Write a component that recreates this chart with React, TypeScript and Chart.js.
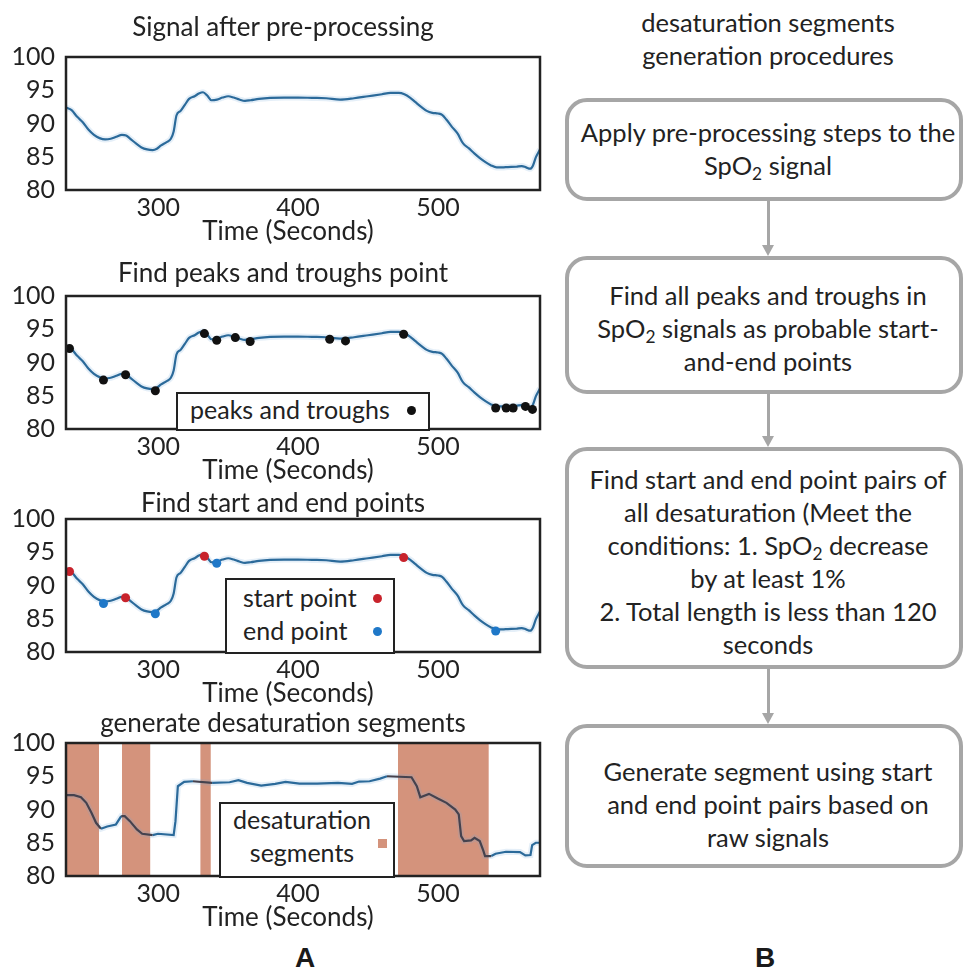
import React, { useEffect, useRef } from "react";
import { Chart, registerables } from "chart.js";

Chart.register(...registerables);

// ---------------- data ----------------
const xTicks = [300, 400, 500];
const yTicks = [80, 85, 90, 95, 100];

const smoothTime = [234,238,242,246,250,254,258,262,266,270,274,277,280,284,288,292,296,299,302,306,309,311,313,316,319,322,326,329,332,335,338,342,346,350,354,358,362,366,372,380,390,400,410,420,430,440,450,460,466,472,476,480,484,488,492,496,500,503,506,510,514,518,522,526,530,534,538,542,546,550,556,560,563,566,568,570,573];
const smoothSpO2 = [92.4,92.0,91.0,90.2,89.1,88.3,87.8,87.6,87.7,88.0,88.3,88.2,87.7,87.0,86.4,86.1,86.0,86.2,86.7,87.2,87.7,88.8,91.2,91.9,92.8,93.7,94.1,94.5,94.7,94.2,93.5,93.6,93.9,94.1,93.9,93.6,93.4,93.5,93.7,93.85,93.9,93.9,93.85,93.8,93.6,93.8,94.1,94.4,94.6,94.6,94.4,93.9,93.2,92.5,91.9,91.6,91.5,91.3,90.6,89.5,88.5,87.0,86.3,85.5,84.8,84.2,83.7,83.4,83.4,83.45,83.5,83.6,83.4,83.2,83.7,84.9,86.1];

const peakTime = [236.5,260.8,276.6,297.9,333,341.8,355.1,365.7,422.6,433.9,475.5,541.3,548.8,553.8,562.6,567.6];
const peakSpO2 = [92.1,87.35,88.15,85.75,94.35,93.35,93.75,93.15,93.5,93.25,94.25,83.15,83.15,83.15,83.4,82.95];

const startTime = [236.5,276.6,333,475.5];
const startSpO2 = [92.1,88.15,94.4,94.2];
const endTime = [260.8,297.9,341.8,541.3];
const endSpO2 = [87.3,85.75,93.35,83.15];

const rawTime = [234,239.7,244.7,248.5,252.2,255.5,259,263.5,269.7,273.5,276,279.7,284.7,288.5,296,299.8,311,312.3,314,318.5,324.8,338.5,351,357.3,363.5,373.6,383.6,391,401,413.6,428.6,438.6,443.6,451.1,458.6,463.6,481.1,484.9,487.4,493.6,499.9,506.1,512.4,514.9,516.6,518.7,523.7,526.2,529.9,532.4,533.7,538.2,541.2,548.7,558.7,562.5,566.2,567.4,570,573.2];
const rawSpO2 = [92.15,92.15,91.85,91.0,89.5,88.0,87.1,87.45,87.75,89.0,89.0,88.25,87.0,86.35,86.15,86.35,86.15,88.25,93.5,94.15,94.25,94.0,94.1,94.4,94.0,93.6,93.85,94.15,93.9,93.9,94.0,93.85,94.2,94.25,94.65,95.0,94.85,93.5,91.85,92.35,91.65,91.0,90.0,89.25,86.0,85.25,85.35,85.75,85.25,83.85,83.0,83.0,83.35,83.65,83.6,83.1,83.15,84.65,85.0,85.0];

const segStart = [234, 274, 330, 471.4];
const segEnd = [257.6, 294.4, 337.6, 536.4];

const panelTitles = ["Signal after pre-processing", "Find peaks and troughs point", "Find start and end points", "generate desaturation segments"];
const xAxisTitle = "Time (Seconds)";

// ---------------- styles ----------------
const FONT = "Lato, 'DejaVu Sans', sans-serif";
const TEXT = "#222222";
const LINE = "#2b6a9a";
const HALO = "rgba(110,165,215,0.18)";
const SEG = "#d4937c";
const BOXC = "#a6a6a6";

const pts = (xs: number[], ys: number[]) => xs.map((x, i) => ({ x, y: ys[i] }));
const inSeg = (x: number) => segStart.some((s, i) => x >= s && x <= segEnd[i]);

const framePlugin = {
  id: "frame",
  afterDraw(chart: any) {
    const { ctx, chartArea } = chart;
    const { left, top, right, bottom } = chartArea;
    ctx.save();
    ctx.strokeStyle = "#222";
    ctx.lineWidth = 2.5;
    ctx.strokeRect(left, top, right - left, bottom - top);
    ctx.restore();
  },
};

const smoothLines = () => [
  {
    data: pts(smoothTime, smoothSpO2),
    borderColor: LINE,
    borderWidth: 2.2,
    pointRadius: 0,
    tension: 0.4,
    cubicInterpolationMode: "monotone",
  },
  {
    data: pts(smoothTime, smoothSpO2),
    borderColor: HALO,
    borderWidth: 6,
    pointRadius: 0,
    tension: 0.4,
    cubicInterpolationMode: "monotone",
  },
];

const dot = (xs: number[], ys: number[], color: string) => ({
  data: pts(xs, ys),
  showLine: false,
  pointRadius: 4.5,
  pointBackgroundColor: color,
  pointBorderWidth: 0,
  borderColor: color,
});

// layout of each panel: canvas top (= plot top - 57) and title centre y
const panels: any[] = [
  { top: 0, titleY: 26, datasets: () => smoothLines() },
  { top: 239, titleY: 272, datasets: () => [dot(peakTime, peakSpO2, "#111111"), ...smoothLines()] },
  { top: 462, titleY: 502, datasets: () => [dot(startTime, startSpO2, "#c8232c"), dot(endTime, endSpO2, "#1f78c8"), ...smoothLines()] },
  {
    top: 686, titleY: 722,
    datasets: () => [
      {
        data: pts(rawTime, rawSpO2),
        borderColor: LINE,
        borderWidth: 2.2,
        pointRadius: 0,
        tension: 0,
        segment: {
          borderColor: (c: any) => (inSeg((c.p0.parsed.x + c.p1.parsed.x) / 2) ? "#45424e" : LINE),
        },
      },
      { data: pts(rawTime, rawSpO2), borderColor: HALO, borderWidth: 6, pointRadius: 0, tension: 0 },
      ...segStart.map((s, i) => ({
        data: [{ x: s, y: 100 }, { x: segEnd[i], y: 100 }],
        borderWidth: 0,
        borderColor: SEG,
        backgroundColor: SEG,
        pointRadius: 0,
        fill: "start",
      })),
    ],
  },
];

function Panel({ cfg }: { cfg: any }) {
  const ref = useRef<HTMLCanvasElement>(null);
  useEffect(() => {
    const font = { family: FONT, size: 25 };
    const chart = new Chart(ref.current as HTMLCanvasElement, {
      type: "line",
      data: { datasets: cfg.datasets() },
      plugins: [framePlugin],
      options: {
        animation: false,
        responsive: false,
        maintainAspectRatio: false,
        layout: { padding: { top: 57, left: 0, right: 20, bottom: 0 } },
        plugins: {
          legend: { display: false },
          tooltip: { enabled: false },
          title: { display: false },
        },
        scales: {
          x: {
            type: "linear",
            min: 234,
            max: 573,
            afterBuildTicks: (s: any) => { s.ticks = xTicks.map((v) => ({ value: v })); },
            afterFit: (s: any) => { s.height = 60; },
            grid: { display: false, drawTicks: false },
            border: { display: false },
            ticks: { color: TEXT, font, padding: 3, maxRotation: 0 },
          },
          y: {
            type: "linear",
            min: 80,
            max: 100,
            afterBuildTicks: (s: any) => { s.ticks = yTicks.map((v) => ({ value: v })); },
            afterFit: (s: any) => { s.width = 66; },
            grid: { display: false, drawTicks: false },
            border: { display: false },
            ticks: { color: TEXT, font, padding: 11 },
          },
        },
      } as any,
    } as any);
    return () => chart.destroy();
  }, []);
  return (
    <canvas
      ref={ref}
      width={560}
      height={250}
      style={{ position: "absolute", left: 0, top: cfg.top, width: 560, height: 250 }}
    />
  );
}

const abs = (s: any) => ({ position: "absolute" as const, ...s });

function PanelTexts() {
  const t = { fontFamily: FONT, color: TEXT, lineHeight: "32px", whiteSpace: "nowrap" as const, textAlign: "center" as const, width: 400 };
  return (
    <>
      {panels.map((p, i) => (
        <React.Fragment key={i}>
          <div style={abs({ ...t, fontSize: 26, left: 283 - 200, top: p.titleY - 16 })}>{panelTitles[i]}</div>
          <div style={abs({ ...t, fontSize: 26, left: 288 - 200, top: p.top + 57 + 133 + 40 - 16 })}>{xAxisTitle}</div>
        </React.Fragment>
      ))}
    </>
  );
}

function Legend() {
  const txt = { fontFamily: FONT, fontSize: 25, color: TEXT, lineHeight: "33px", whiteSpace: "nowrap" as const };
  return (
    <>
      <div style={abs({ left: 176, top: 392, width: 250, height: 35, border: "2px solid #222", background: "#fff" })} />
      <div style={abs({ ...txt, left: 190, top: 393 })}>peaks and troughs</div>
      <div style={abs({ left: 407, top: 406, width: 9, height: 9, borderRadius: 5, background: "#111" })} />

      <div style={abs({ left: 225, top: 578, width: 166, height: 72, border: "2px solid #222", background: "#fff" })} />
      <div style={abs({ ...txt, left: 243, top: 581 })}>start point</div>
      <div style={abs({ ...txt, left: 243, top: 614 })}>end point</div>
      <div style={abs({ left: 373, top: 594, width: 9, height: 9, borderRadius: 5, background: "#c8232c" })} />
      <div style={abs({ left: 373, top: 627, width: 9, height: 9, borderRadius: 5, background: "#1f78c8" })} />

      <div style={abs({ left: 219, top: 802, width: 172, height: 72, border: "2px solid #222", background: "#fff" })} />
      <div style={abs({ ...txt, left: 222, width: 160, textAlign: "center", top: 803 })}>desaturation</div>
      <div style={abs({ ...txt, left: 222, width: 160, textAlign: "center", top: 836 })}>segments</div>
      <div style={abs({ left: 378, top: 839, width: 9, height: 9, background: SEG })} />
    </>
  );
}

const Sub = () => (
  <span style={{ fontSize: "0.68em", verticalAlign: "-0.3em", lineHeight: 0 }}>2</span>
);

const boxes = [
  { top: 98, height: 103, textTop: 116, lines: [<>Apply pre-processing steps to the</>, <>SpO<Sub /> signal</>] },
  { top: 256, height: 138, textTop: 279, lines: [<>Find all peaks and troughs in</>, <>SpO<Sub /> signals as probable start-</>, <>and-end points</>] },
  {
    top: 447, height: 222, textTop: 463,
    lines: [<>Find start and end point pairs of</>, <>all desaturation (Meet the</>, <>conditions: 1. SpO<Sub /> decrease</>, <>by at least 1%</>, <>2. Total length is less than 120</>, <>seconds</>],
  },
  { top: 724, height: 144, textTop: 755, lines: [<>Generate segment using start</>, <>and end point pairs based on</>, <>raw signals</>] },
];

function Flow() {
  const txt = { fontFamily: FONT, fontSize: 25.5, color: TEXT, lineHeight: "33px", whiteSpace: "nowrap" as const, textAlign: "center" as const };
  return (
    <>
      <div style={abs({ ...txt, left: 568, width: 400, top: 6 })}>
        desaturation segments<br />generation procedures
      </div>
      {boxes.map((b, i) => (
        <React.Fragment key={i}>
          <div
            style={abs({
              left: 565, top: b.top, width: 398, height: b.height, boxSizing: "border-box",
              border: `4px solid ${BOXC}`, borderRadius: 22, background: "#fff",
            })}
          />
          <div style={abs({ ...txt, left: 568, width: 400, top: b.textTop })}>
            {b.lines.map((l, j) => (<div key={j}>{l}</div>))}
          </div>
          {i < boxes.length - 1 && (
            <>
              <div style={abs({ left: 766.5, top: b.top + b.height, width: 3, height: boxes[i + 1].top - b.top - b.height - 10, background: BOXC })} />
              <div
                style={abs({
                  left: 762, top: boxes[i + 1].top - 11, width: 0, height: 0,
                  borderLeft: "6px solid transparent", borderRight: "6px solid transparent", borderTop: `11px solid ${BOXC}`,
                })}
              />
            </>
          )}
        </React.Fragment>
      ))}
    </>
  );
}

export default function App() {
  const lab = { fontFamily: "'Liberation Sans', Arial, sans-serif", fontWeight: 700, fontSize: 28, color: "#1a1a1a", lineHeight: "32px" };
  return (
    <div style={abs({ left: 0, top: 0, width: 963, height: 973, background: "#fff", overflow: "hidden" })}>
      {panels.map((cfg, i) => (<Panel key={i} cfg={cfg} />))}
      <PanelTexts />
      <Legend />
      <Flow />
      <div style={abs({ ...lab, left: 290, top: 942, width: 30, textAlign: "center" })}>A</div>
      <div style={abs({ ...lab, left: 750, top: 942, width: 30, textAlign: "center" })}>B</div>
    </div>
  );
}
